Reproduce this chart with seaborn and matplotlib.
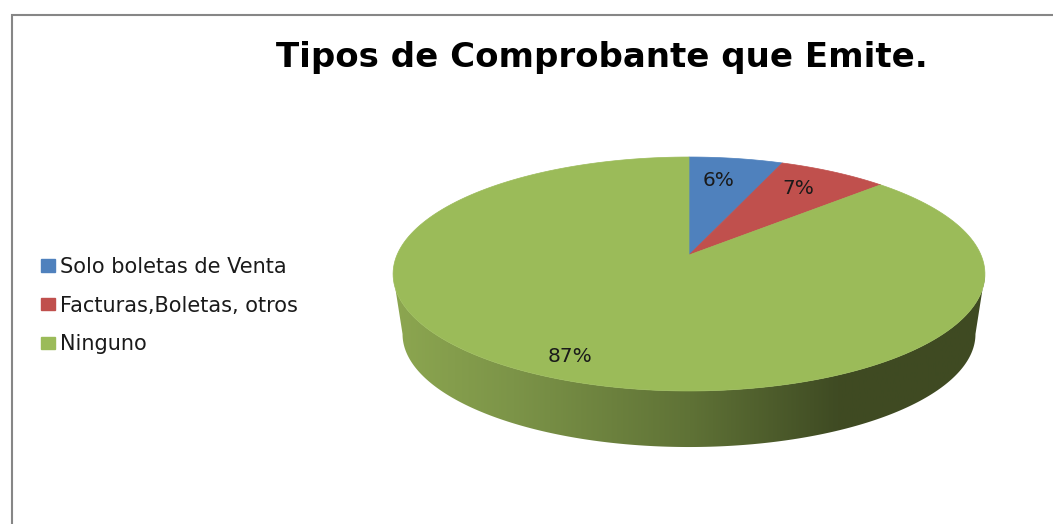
import numpy as np
import matplotlib
matplotlib.use("Agg")
import matplotlib.pyplot as plt
import seaborn as sns
from matplotlib.colors import LinearSegmentedColormap
from matplotlib.patches import Patch, Polygon

# Datos del grafico
categorias = ["Solo boletas de Venta", "Facturas,Boletas, otros", "Ninguno"]
porcentajes = [6, 7, 87]
etiquetas = ["6%", "7%", "87%"]
colores = ["#4f81bd", "#c0504d", "#9bbb59"]
titulo = "Tipos de Comprobante que Emite."

sns.set_theme(style="white")
plt.rcParams["font.family"] = ["DejaVu Sans"]

fig = plt.figure(figsize=(10.53, 5.24), dpi=100)
ax = fig.add_axes([0, 0, 1, 1])
ax.set_xlim(0, 1053)
ax.set_ylim(524, 0)
ax.axis("off")

# Geometria del pastel en perspectiva (pixeles)
cx, cy = 689, 255
ancho, alto, k = 292, 113.9, 0.1624


def proyectar(ang, radio=1.0):
    # ang en grados, medido desde arriba en sentido horario
    t = np.radians(ang)
    u, v = radio * np.sin(t), radio * np.cos(t)
    d = 1 + k * v
    return cx + ancho * u / d, cy - alto * v / d


# Lateral con degradado, entre los puntos mas anchos del borde
ang = np.linspace(99.3, 260.7, 200)
x_sup, y_sup = proyectar(ang)
x_inf = cx + 0.968 * (x_sup - cx)
y_inf = cy + 0.965 * (y_sup - cy) + 60.8
lateral = np.column_stack([np.r_[x_sup, x_inf[::-1]], np.r_[y_sup, y_inf[::-1]]])
grad = LinearSegmentedColormap.from_list(
    "lateral",
    [(0, "#8ca650"), (0.2, "#7c9448"), (0.5, "#5f7236"), (0.75, "#3f4b23"), (1, "#3f4a22")],
)
img = ax.imshow(
    np.linspace(0, 1, 256).reshape(1, -1),
    cmap=grad,
    extent=[395, 985, 524, 0],
    aspect="auto",
    zorder=1,
)
ax.set_xlim(0, 1053)
ax.set_ylim(524, 0)
clip = Polygon(lateral, closed=True, transform=ax.transData)
img.set_clip_path(clip)

# Sectores
inicio = 0
for valor, color in zip(porcentajes, colores):
    fin = inicio + valor * 3.6
    a = np.linspace(inicio, fin, 200)
    xs, ys = proyectar(a)
    ax.fill(np.r_[cx, xs], np.r_[cy, ys], color=color, lw=0.5, zorder=2)
    inicio = fin

# Etiquetas de datos
pos_etiquetas = [(719, 181), (798, 189), (570, 356)]
for txt, (x, y) in zip(etiquetas, pos_etiquetas):
    ax.text(x, y, txt, fontsize=14.5, color="#1a1a1a", ha="center", va="center", zorder=3)

# Titulo
ax.text(602, 57, titulo, fontsize=24.5, fontweight="bold",
        color="black", ha="center", va="center")

# Leyenda
handles = [Patch(color=c) for c in colores]
ax.legend(
    handles, categorias,
    loc="center left", bbox_to_anchor=(31 / 1053, 1 - 305.5 / 524),
    frameon=False, fontsize=15, labelcolor="#1a1a1a",
    handlelength=0.66, handleheight=0.53, handletextpad=0.24,
    labelspacing=0.9, borderpad=0, borderaxespad=0.5,
)

# Borde del grafico
ax.plot([12.3, 12.3, 1053], [524, 15, 15], color="#868686", lw=1.5, solid_joinstyle="miter", zorder=4)

fig.savefig("out.png", dpi=100)
